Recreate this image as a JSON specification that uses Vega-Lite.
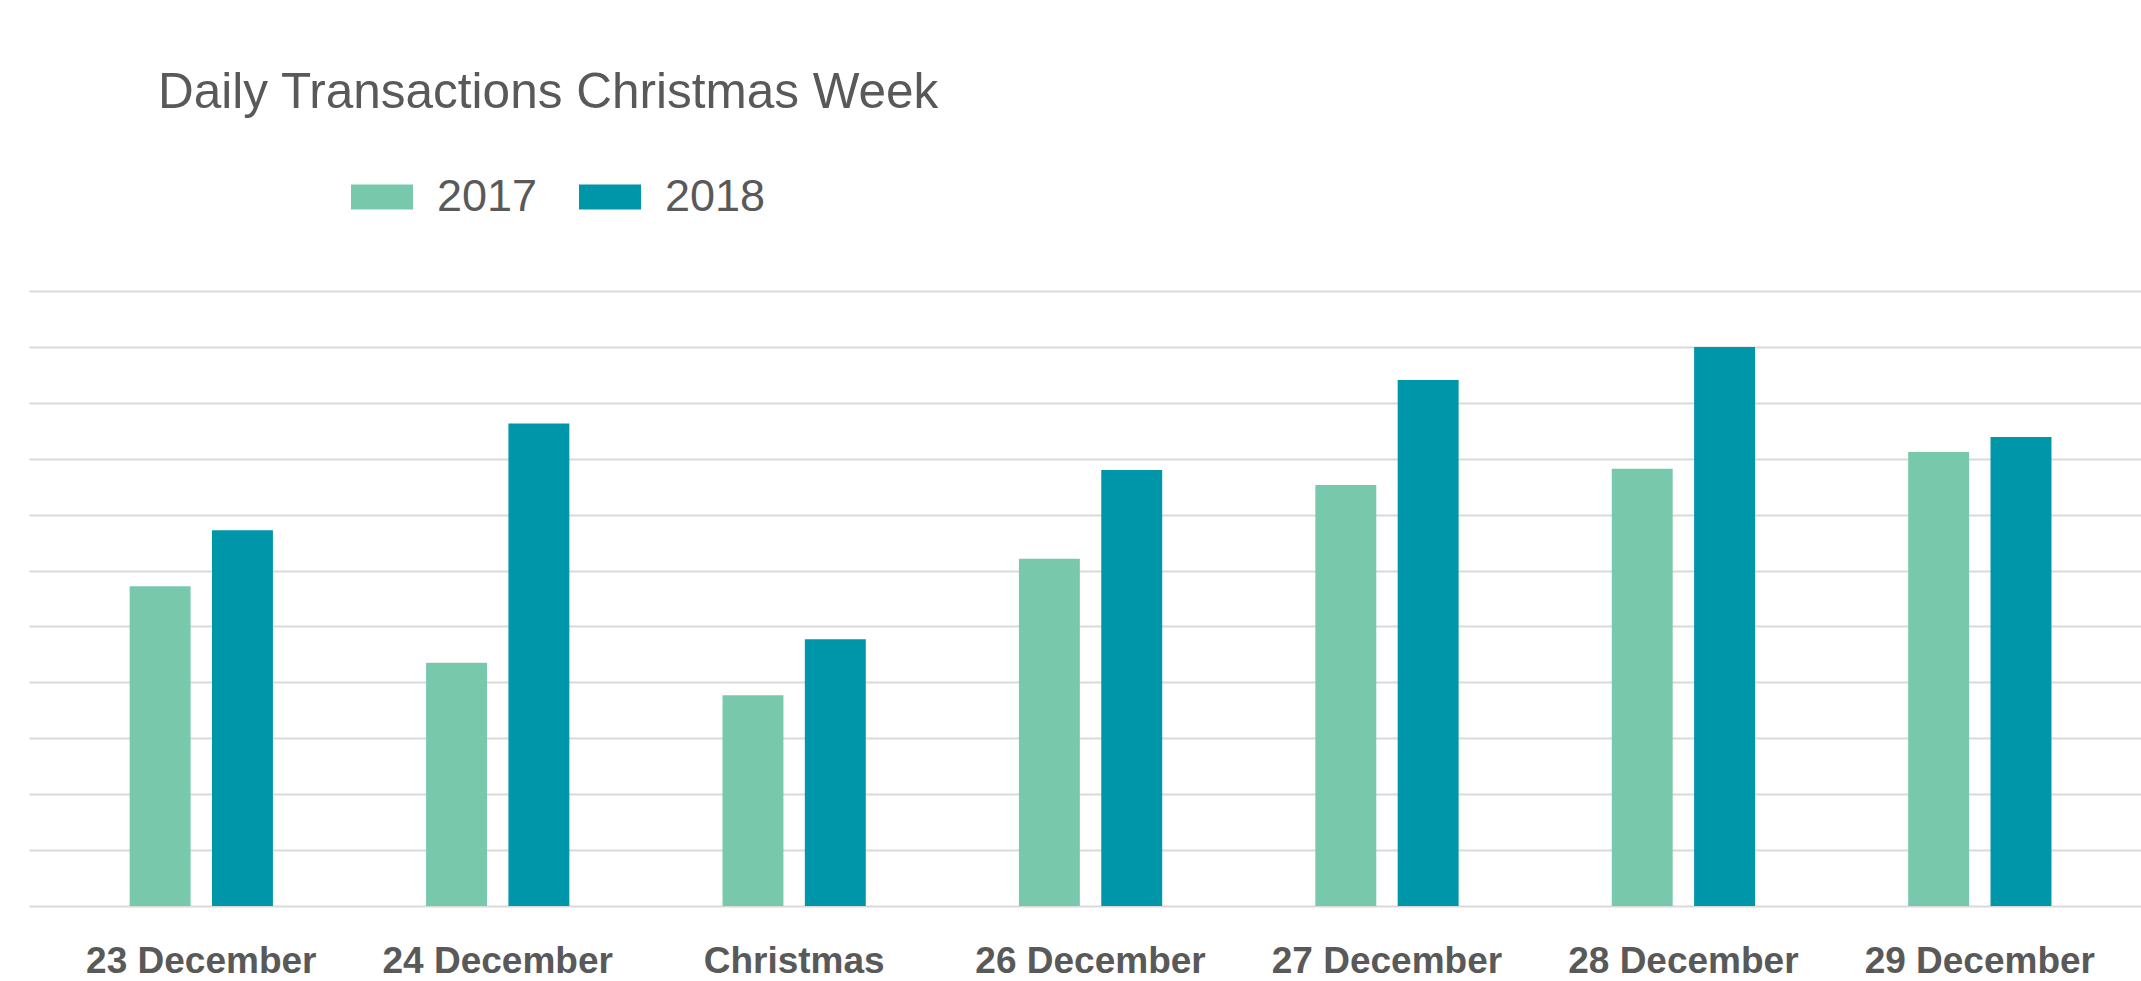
{
  "$schema": "https://vega.github.io/schema/vega-lite/v6.json",
  "width": 2112,
  "height": 615,
  "autosize": {"type": "none"},
  "padding": {"left": 29, "top": 291, "right": 0, "bottom": 75},
  "background": "white",
  "title": {
    "text": "Daily Transactions Christmas Week",
    "anchor": "start",
    "frame": "group",
    "font": "Liberation Sans",
    "fontSize": 49.5,
    "fontWeight": "normal",
    "color": "#595959",
    "baseline": "middle",
    "offset": 24,
    "dx": 129
  },
  "data": {
    "values": [
      {"day": "23 December", "year": "2017", "value": 5720},
      {"day": "23 December", "year": "2018", "value": 6720},
      {"day": "24 December", "year": "2017", "value": 4350},
      {"day": "24 December", "year": "2018", "value": 8630},
      {"day": "Christmas", "year": "2017", "value": 3770},
      {"day": "Christmas", "year": "2018", "value": 4770},
      {"day": "26 December", "year": "2017", "value": 6210},
      {"day": "26 December", "year": "2018", "value": 7800},
      {"day": "27 December", "year": "2017", "value": 7530},
      {"day": "27 December", "year": "2018", "value": 9410},
      {"day": "28 December", "year": "2017", "value": 7820},
      {"day": "28 December", "year": "2018", "value": 10000},
      {"day": "29 December", "year": "2017", "value": 8120},
      {"day": "29 December", "year": "2018", "value": 8390}
    ]
  },
  "mark": {"type": "bar"},
  "encoding": {
    "x": {
      "field": "day",
      "type": "nominal",
      "sort": null,
      "scale": {"paddingInner": 0, "paddingOuter": 0.0625, "align": 0.65},
      "axis": {
        "title": null,
        "labelAngle": 0,
        "labelFont": "Liberation Sans",
        "labelFontSize": 37,
        "labelFontWeight": "bold",
        "labelColor": "#595959",
        "labelPadding": 37,
        "labelLimit": 0,
        "ticks": false,
        "domain": false,
        "grid": false
      }
    },
    "xOffset": {
      "field": "year",
      "type": "nominal",
      "scale": {"paddingInner": 0.26, "paddingOuter": 0.93}
    },
    "y": {
      "field": "value",
      "type": "quantitative",
      "scale": {"domain": [0, 11000], "nice": false},
      "axis": {
        "title": null,
        "values": [0, 1000, 2000, 3000, 4000, 5000, 6000, 7000, 8000, 9000, 10000, 11000],
        "labels": false,
        "ticks": false,
        "domain": false,
        "grid": true,
        "gridColor": "#d9d9d9",
        "gridWidth": 2
      }
    },
    "color": {
      "field": "year",
      "type": "nominal",
      "scale": {"domain": ["2017", "2018"], "range": ["#78c9ab", "#0096aa"]},
      "legend": {
        "title": null,
        "orient": "none",
        "legendX": 322,
        "legendY": -125,
        "direction": "horizontal",
        "symbolType": "M-1,-0.403H1V0.403H-1Z",
        "symbolSize": 3844,
        "symbolStrokeWidth": 0,
        "labelFont": "Liberation Sans",
        "labelFontSize": 45,
        "labelColor": "#595959",
        "labelOffset": 24,
        "columnPadding": 41
      }
    }
  },
  "config": {"view": {"stroke": null}}
}
